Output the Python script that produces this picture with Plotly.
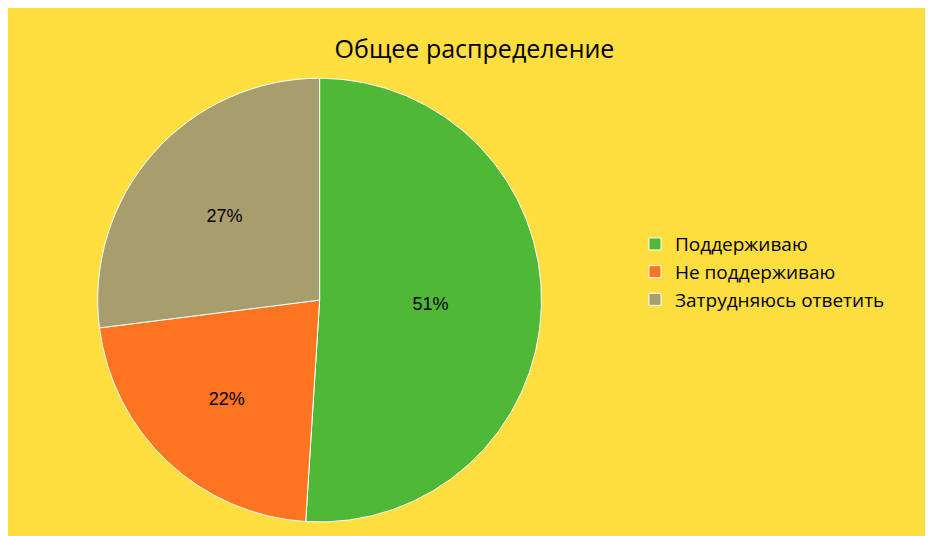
import plotly.graph_objects as go

labels = ["Поддерживаю", "Не поддерживаю", "Затрудняюсь ответить"]
values = [51, 22, 27]
colors = ["#4FB837", "#FF7420", "#A89D6C"]

fig = go.Figure(go.Pie(
    labels=labels, values=values, sort=False, direction="clockwise", rotation=0,
    marker=dict(colors=colors, line=dict(color="white", width=1)),
    textinfo="percent", texttemplate="%{percent:.0%}", textposition="inside",
    insidetextorientation="horizontal",
    textfont=dict(family="Liberation Sans", size=18, color="black"),
    domain=dict(x=[0.096, 0.572], y=[0.041, 0.869]),
))
fig.update_layout(
    width=933, height=536, margin=dict(l=0, r=0, t=0, b=0),
    paper_bgcolor="#FFDE40", plot_bgcolor="#FFDE40",
    title=dict(text="Общее распределение", x=0.5, y=0.94, xanchor="center",
               font=dict(family="Open Sans", size=25, color="black")),
    legend=dict(x=0.672, y=0.595, xanchor="left", yanchor="top",
                font=dict(family="Open Sans", size=19, color="black"),
                itemwidth=30, tracegroupgap=0),
)
fig.write_html("out.html")
